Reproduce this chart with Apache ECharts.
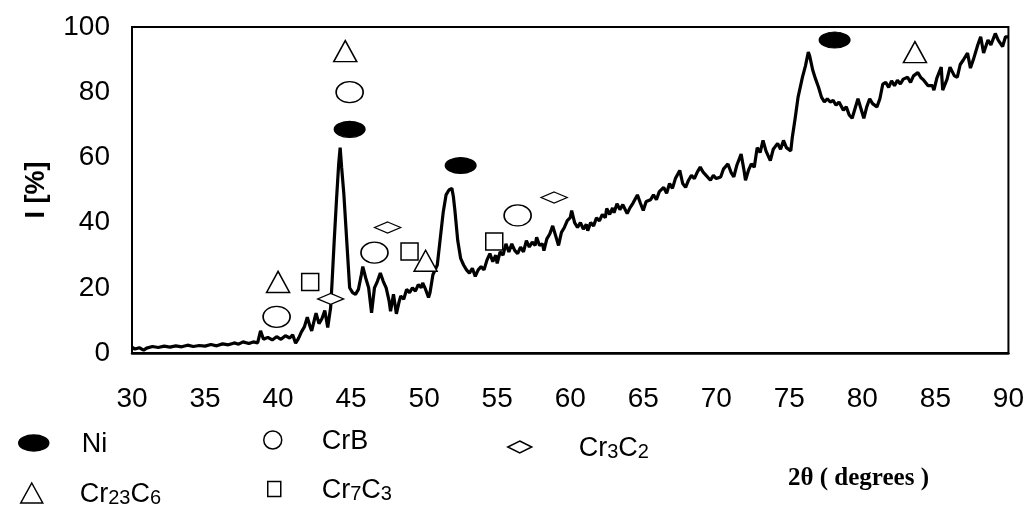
<!DOCTYPE html>
<html>
<head>
<meta charset="utf-8">
<script src="https://cdn.jsdelivr.net/npm/echarts@6/dist/echarts.min.js"></script>
<style>
  html, body { margin: 0; padding: 0; background: #fff; }
  #chart { width: 1027px; height: 508px; }
</style>
</head>
<body>
<div id="chart"></div>
<script>
// ---- data ----
const twoTheta = [
  30.0,30.2,30.5,30.8,31.0,31.4,31.8,32.2,32.6,33.0,33.4,33.8,34.2,34.6,35.0,35.4,35.8,36.2,36.6,37.0,
  37.3,37.6,38.0,38.3,38.6,38.8,39.0,39.3,39.6,39.9,40.2,40.5,40.8,41.0,41.2,41.4,41.6,41.8,42.0,42.2,
  42.3,42.5,42.6,42.8,43.0,43.2,43.4,43.6,43.7,43.85,44.0,44.15,44.25,44.35,44.5,44.7,44.9,45.1,45.3,45.5,
  45.7,45.8,46.0,46.2,46.4,46.6,46.8,47.0,47.2,47.4,47.6,47.7,47.9,48.0,48.1,48.3,48.4,48.6,48.8,49.0,
  49.2,49.4,49.6,49.8,49.9,50.1,50.3,50.4,50.6,50.9,51.1,51.3,51.5,51.7,51.9,52.0,52.1,52.3,52.5,52.7,
  52.9,53.1,53.3,53.5,53.7,53.9,54.1,54.3,54.5,54.7,54.9,55.0,55.2,55.4,55.6,55.8,56.0,56.2,56.4,56.6,
  56.8,57.0,57.2,57.4,57.6,57.7,57.9,58.1,58.2,58.4,58.6,58.8,59.0,59.2,59.4,59.6,59.8,60.0,60.1,60.3,
  60.5,60.7,60.9,61.1,61.2,61.4,61.6,61.8,62.0,62.2,62.4,62.5,62.7,62.9,63.0,63.2,63.4,63.6,63.9,64.1,
  64.3,64.6,64.8,65.0,65.2,65.5,65.7,65.9,66.1,66.4,66.6,66.8,67.0,67.2,67.5,67.7,67.9,68.1,68.3,68.5,
  68.7,68.9,69.1,69.3,69.6,69.8,70.0,70.3,70.5,70.8,71.0,71.2,71.4,71.7,71.9,72.0,72.2,72.4,72.6,72.8,
  73.0,73.2,73.4,73.7,73.9,74.2,74.4,74.6,74.8,75.1,75.2,75.4,75.6,75.9,76.1,76.3,76.4,76.6,76.8,77.0,
  77.2,77.4,77.6,77.8,78.0,78.2,78.4,78.7,78.9,79.1,79.3,79.5,79.7,79.9,80.1,80.3,80.5,80.7,81.0,81.2,
  81.4,81.6,81.8,82.0,82.2,82.4,82.6,82.8,83.1,83.3,83.5,83.8,84.0,84.2,84.5,84.8,84.9,85.1,85.4,85.5,
  85.8,86.0,86.3,86.5,86.7,86.9,87.2,87.4,87.6,87.9,88.1,88.3,88.6,88.8,89.1,89.3,89.6,89.8,90.0
];
const intensity = [
  1.8,1.2,1.6,0.9,1.5,2.0,1.7,2.1,1.8,2.2,1.9,2.4,2.0,2.3,2.1,2.6,2.2,2.8,2.5,3.1,
  2.7,3.4,2.9,3.4,3.1,6.8,4.2,4.8,4.0,5.0,4.2,5.3,4.6,5.6,3.0,4.5,6.5,8.0,11.0,8.0,
  6.8,10.5,12.2,9.0,10.5,13.0,7.8,14.0,22,35,47,58,63,57,49,34.5,20,18.5,18,19.5,
  24,26.5,23,20,12.3,20,22,24.5,22,20,16,12.8,18,15,12,16,17.5,16.5,19.5,18.5,
  20,19,21,20,21.5,19.5,17,18.5,24,27,35,43,48.5,50,50.5,48,44,34.5,29,27,
  25.5,24.5,26,23.5,25.5,26.5,25.5,28.5,30.5,28,30,27.5,31,30,33.5,31,33.5,31.5,30.5,32.5,
  31,34.5,32.5,34,33,35.5,33,33.5,31.4,35,36.5,39,36,33,37,38.5,40.6,41.5,43.7,40,
  38.5,40,38,39.5,37.5,40,39,41.5,40.5,42.5,41.5,44.3,42.5,44.5,43,45.8,44,45.5,42.8,44.6,
  46,48.5,46,43.7,46.5,47,48.5,47,49.5,50.8,49,52,50.5,53.5,56,52,50.8,53,54.5,53.5,
  55.5,57,55.5,54.5,53,54.5,53.5,54,56.5,58,55.5,54,57.5,61,56,53,56,58,57,63,
  61.5,65.2,62,59,62.5,64.3,62.5,65.2,63,62,66,72,78.5,84.6,88,92.3,91,86.8,84,81.5,
  78.5,77,78,77,77.5,76,77,74.5,75.5,73,72,75,78,75,72,75.5,78,76.5,75.5,78,
  82.5,83,81.5,83.5,82,83.7,82.5,84,84.6,83,85,86,84.5,83.7,82,82,80.6,84.3,87.7,80.6,
  84,87.7,85,84.6,88.5,89.8,92,87.4,90,94.5,97,92,96,94.5,98,96,94,97,97
];
const xTicks = [30, 35, 40, 45, 50, 55, 60, 65, 70, 75, 80, 85, 90];
const yTicks = [0, 20, 40, 60, 80, 100];

// phase marker positions [2θ, I]
const niPeaks     = [[44.9, 68.6], [52.5, 57.5], [78.1, 96]];
const crbPeaks    = [[44.9, 80], [39.9, 11.1], [46.6, 30.8], [56.4, 42.2]];
const cr3c2Peaks  = [[43.6, 16.6], [47.5, 38.5], [58.9, 47.7]];
const cr23c6Peaks = [[44.6, 92.6], [40.0, 21.8], [50.1, 28.3], [83.6, 92.3]];
const cr7c3Peaks  = [[42.2, 21.8], [49.0, 31.1], [54.8, 34.2]];

const richNames = {
  'Ni': '{a|Ni}',
  'CrB': '{a|CrB}',
  'Cr3C2': '{a|Cr}{s|3}{a|C}{s|2}',
  'Cr23C6': '{a|Cr}{s|23}{a|C}{s|6}',
  'Cr7C3': '{a|Cr}{s|7}{a|C}{s|3}'
};

// ---- chart ----
const ELLIPSE = 'path://M0,10 A10,10 0 1,1 20,10 A10,10 0 1,1 0,10 Z';
const WIDE_ELLIPSE = 'path://M0,8 A15,8 0 1,1 30,8 A15,8 0 1,1 0,8 Z';
const FONT = 'Liberation Sans, Arial, sans-serif';

const curve = twoTheta.map((t, i) => [t, intensity[i]]);

function phaseSeries(name, data, symbol, size, filled) {
  return {
    name: name, type: 'scatter', data: data, symbol: symbol, symbolSize: size,
    itemStyle: { color: filled ? '#000' : '#fff', borderColor: '#000', borderWidth: 1.5, opacity: 1 },
    z: 5, silent: true
  };
}

const richStyle = {
  a: { fontSize: 27, fontFamily: FONT, color: '#000', verticalAlign: 'bottom', lineHeight: 30 },
  s: { fontSize: 20, fontFamily: FONT, color: '#000', verticalAlign: 'bottom', lineHeight: 30 }
};

function legendFor(name, left, top, icon, w, h, pad, filled) {
  return {
    data: [{ name: name, icon: icon,
      itemStyle: { color: filled ? '#000' : '#fff', borderColor: '#000', borderWidth: 1.5 } }],
    left: left, top: top, orient: 'horizontal', selectedMode: false,
    itemWidth: w, itemHeight: h, padding: 0,
    formatter: n => richNames[n],
    textStyle: { padding: [0, 0, 0, pad], rich: richStyle }
  };
}

const chart = echarts.init(document.getElementById('chart'), null, { renderer: 'canvas' });
chart.setOption({
  animation: false,
  backgroundColor: '#fff',
  grid: { left: 132, right: 18, top: 27, bottom: 155, show: true, borderColor: '#000', borderWidth: 2 },
  title: {
    text: '2θ ( degrees )', left: 788, top: 466, padding: 0,
    textStyle: { fontFamily: 'Liberation Serif, Times New Roman, serif', fontWeight: 'bold', fontSize: 25, color: '#000' }
  },
  xAxis: {
    type: 'value', min: xTicks[0], max: xTicks[xTicks.length - 1], interval: xTicks[1] - xTicks[0],
    axisLine: { show: true, lineStyle: { color: '#000', width: 2.5 } },
    axisTick: { show: false },
    splitLine: { show: false },
    axisLabel: { fontSize: 28, fontFamily: FONT, color: '#000', margin: 32 }
  },
  yAxis: {
    type: 'value', min: yTicks[0], max: yTicks[yTicks.length - 1], interval: yTicks[1] - yTicks[0],
    name: 'I [%]', nameLocation: 'middle', nameRotate: 90, nameGap: 82,
    nameTextStyle: { fontSize: 27, fontWeight: 'bold', fontFamily: FONT, color: '#000' },
    axisLine: { show: true, lineStyle: { color: '#000', width: 2 } },
    axisTick: { show: false },
    splitLine: { show: false },
    axisLabel: { fontSize: 28, fontFamily: FONT, color: '#000', margin: 22 }
  },
  legend: [
    legendFor('Ni', 18, 431, WIDE_ELLIPSE, 30, 16, 28, true),
    legendFor('CrB', 263, 428, ELLIPSE, 18, 20, 35, false),
    legendFor('Cr3C2', 507, 435, 'diamond', 24, 12, 42, false),
    legendFor('Cr23C6', 20, 481, 'triangle', 22, 20, 32, false),
    legendFor('Cr7C3', 267, 477, 'rect', 13, 15, 36, false)
  ],
  series: [
    {
      name: 'XRD', type: 'line', data: curve, showSymbol: false, symbol: 'none',
      lineStyle: { color: '#000', width: 3.2 }, z: 2, silent: true
    },
    phaseSeries('Ni', niPeaks, WIDE_ELLIPSE, [30, 16], true),
    phaseSeries('CrB', crbPeaks, ELLIPSE, [27, 21], false),
    phaseSeries('Cr3C2', cr3c2Peaks, 'diamond', [26, 11], false),
    phaseSeries('Cr23C6', cr23c6Peaks, 'triangle', [23, 21], false),
    phaseSeries('Cr7C3', cr7c3Peaks, 'rect', [17, 17], false)
  ]
});
</script>
</body>
</html>
